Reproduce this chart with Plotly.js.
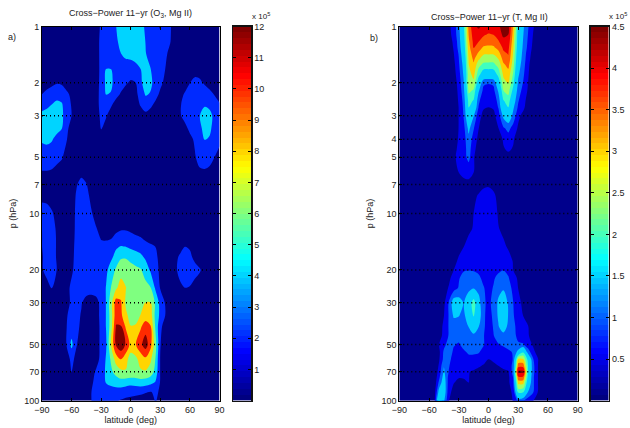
<!DOCTYPE html>
<html><head><meta charset="utf-8">
<script src="https://cdn.plot.ly/plotly-3.0.1.min.js"></script>
<style>html,body{margin:0;padding:0;background:#fff}#chart{width:630px;height:428px}</style>
</head><body><div id="chart"></div>
<script>
const latTicks=[-90,-60,-30,0,30,60,90];
const pTicksA=[1,2,3,5,7,10,20,30,50,70,100];
const pTicksB=[1,2,3,4,5,7,10,20,30,50,70,100];
const gridA=[2,3,5,7,10,20,30,50,70];
const gridB=[2,3,4,5,7,10,20,30,50,70];
const barTicksA=[1,2,3,4,5,6,7,8,9,10,11,12];
const barTicksB=[0.5,1,1.5,2,2.5,3,3.5,4,4.5];

const latA=[-90,-85,-80,-75,-70,-65,-60,-55,-50,-45,-40,-35,-30,-25,-20,-15,-10,-5,0,5,10,15,20,25,30,35,40,45,50,55,60,65,70,75,80,85,90];
const pA=[1,1.2,1.4,1.7,2,2.3,2.6,3,3.5,4,5,6,7,8,10,12,13.5,15,17,20,25,30,35,40,50,60,70,80,90,100];
const powerO3=[
[.2,.2,.2,.2,.2,.2,.2,.2,.2,.2,.3,.9,2.0,2.5,3.0,3.4,4.0,4.6,4.8,4.6,4.2,3.1,2.6,2.0,1.6,2.2,1.9,.8,.3,.2,.2,.2,.2,.2,.2,.2,.2],
[.2,.2,.2,.2,.2,.2,.2,.2,.2,.2,.3,1.0,2.2,2.6,2.9,3.2,3.8,4.4,4.6,4.5,4.0,3.4,2.8,2.4,2.2,2.2,1.8,.7,.3,.2,.2,.2,.2,.2,.2,.2,.2],
[.2,.2,.2,.2,.2,.2,.2,.2,.2,.2,.3,1.0,2.2,2.6,2.8,3.1,3.4,3.9,4.0,4.1,4.0,3.5,2.9,2.5,2.3,2.0,1.3,.5,.2,.2,.2,.2,.2,.2,.2,.2,.2],
[.4,.4,.5,.6,.6,.4,.3,.2,.2,.2,.3,1.1,2.1,3.5,3.45,2.7,2.5,2.4,2.5,2.9,3.4,3.9,3.5,2.6,2.2,1.7,.9,.4,.3,.3,.5,1.2,1.1,.7,.4,.3,.3],
[.9,1.0,1.3,1.6,1.5,.8,.4,.3,.3,.3,.4,1.2,2.1,3.8,3.8,2.6,2.2,1.9,1.5,1.7,3.1,4.2,3.8,2.8,2.1,1.3,.7,.4,.4,.9,1.7,2.1,2.0,1.5,1.0,.7,.5],
[1.7,2.2,2.6,2.8,2.6,2.1,1.3,.6,.4,.3,.4,1.2,2.2,3.5,3.3,2.1,1.6,1.0,.9,1.3,2.4,3.6,3.3,2.3,1.4,.8,.5,.6,1.2,1.9,2.3,2.7,2.9,2.6,2.2,1.6,1.2],
[2.7,3.0,3.4,3.8,3.6,2.4,1.6,.7,.4,.3,.4,1.2,2.2,2.6,1.9,1.3,.9,.7,.8,1.0,1.9,2.5,2.1,1.4,.8,.5,.4,.7,1.6,2.1,2.4,2.8,3.0,3.2,3.0,2.4,1.8],
[3.9,4.1,4.3,4.3,3.8,2.5,1.7,.8,.4,.3,.3,1.1,2.0,1.8,1.2,.8,.5,.4,.4,.5,.9,1.3,1.0,.7,.4,.3,.3,.6,1.6,2.1,2.5,2.9,3.4,4.2,3.9,3.0,2.2],
[4.0,4.1,4.1,3.9,3.5,2.0,1.2,.6,.4,.3,.3,.9,1.8,1.3,.8,.5,.3,.3,.3,.3,.3,.3,.3,.3,.3,.3,.3,.3,.8,1.4,2.0,2.5,3.1,3.9,3.7,2.9,2.2],
[3.6,3.7,3.55,3.0,2.5,1.8,1.0,.5,.3,.3,.3,.5,1.0,.6,.3,.3,.2,.2,.2,.2,.2,.2,.2,.2,.2,.2,.2,.2,.4,.9,1.4,1.9,2.6,3.5,3.3,2.6,2.0],
[2.8,2.8,2.6,2.2,1.9,1.0,.5,.4,.9,.6,.3,.2,.2,.2,.2,.2,.2,.2,.2,.2,.2,.2,.2,.2,.2,.2,.2,.2,.2,.5,1.0,1.6,2.2,2.5,2.3,1.7,1.3],
[1.6,1.6,1.5,1.2,.8,.5,.3,.6,1.3,1.0,.5,.3,.2,.2,.2,.2,.2,.2,.2,.2,.2,.2,.2,.2,.2,.2,.2,.2,.2,.3,.7,1.2,1.5,1.5,1.3,.9,.7],
[.9,.8,.6,.4,.3,.3,.5,1.6,2.2,1.8,1.0,.5,.3,.2,.2,.2,.2,.2,.2,.2,.2,.2,.2,.2,.2,.2,.2,.2,.2,.2,.3,.5,.7,.7,.6,.4,.3],
[1.4,1.3,.9,.5,.4,.4,.9,1.9,2.4,2.3,1.2,.6,.3,.2,.2,.2,.2,.2,.2,.2,.2,.2,.2,.2,.2,.2,.2,.2,.2,.2,.2,.3,.3,.3,.3,.2,.2],
[2.2,2.2,1.9,1.2,.7,.6,1.1,2.0,2.5,2.5,1.9,1.0,.8,.7,.7,.8,.9,.9,.8,.7,.6,.5,.4,.3,.2,.2,.2,.2,.2,.2,.2,.2,.2,.2,.2,.2,.2],
[1.7,2.3,2.3,1.5,.8,.7,1.2,2.0,2.5,2.6,2.3,1.8,1.1,1.0,1.1,1.3,1.5,1.5,1.3,1.1,.9,.7,.5,.4,.3,.2,.2,.2,.3,.4,.3,.2,.2,.2,.2,.2,.2],
[1.7,2.3,2.3,1.6,.9,.8,1.3,2.0,2.6,2.7,2.5,2.2,1.6,1.5,1.6,2.1,2.5,2.5,2.3,2.0,1.8,1.4,1.1,.8,.6,.4,.3,.3,.6,.9,.7,.4,.2,.2,.2,.2,.2],
[1.7,2.3,2.3,1.6,.9,.8,1.3,2.1,2.6,2.7,2.6,2.4,2.1,2.2,2.6,3.2,3.5,3.4,3.1,2.9,2.6,2.3,2.0,1.7,1.1,.7,.5,.7,1.0,1.7,1.5,.7,.4,.2,.2,.2,.2],
[1.6,2.2,2.3,1.6,.9,.8,1.4,2.1,2.6,2.7,2.6,2.5,2.4,2.6,3.1,3.9,4.9,4.9,4.4,4.1,3.8,3.1,2.6,2.0,1.3,.8,.6,1.2,2.0,2.2,2.1,1.2,.6,.3,.2,.2,.2],
[1.6,2.1,2.2,1.7,.9,.8,1.5,2.2,2.7,3.5,2.8,2.6,2.5,3.1,4.1,5.4,6.2,6.4,6.0,5.6,5.3,4.4,3.2,2.1,1.5,.9,.8,1.4,2.2,2.5,2.6,2.4,1.9,1.0,.6,.4,.3],
[.9,1.3,1.75,1.3,.8,1.3,2.0,2.3,2.3,2.3,2.3,2.3,2.4,3.5,5.2,6.6,7.6,6.9,6.5,6.3,6.0,5.7,5.3,3.2,1.6,.9,.7,1.0,1.4,1.7,1.6,1.0,.7,.4,.3,.3,.2],
[.5,.5,.5,.5,.5,1.2,2.0,2.3,1.8,1.2,1.0,1.3,2.1,3.5,6.2,9.4,8.8,6.6,6.5,6.3,6.4,6.9,7.0,4.9,2.8,1.6,.8,.4,.3,.3,.3,.3,.2,.2,.2,.2,.2],
[.4,.4,.4,.4,.5,1.6,2.3,2.1,1.6,1.0,.9,1.2,2.1,3.5,6.0,9.6,9.0,7.2,6.3,6.2,6.9,7.6,7.8,4.6,3.0,1.7,.8,.3,.2,.2,.2,.2,.2,.2,.2,.2,.2],
[.3,.3,.3,.3,.5,1.7,2.4,2.0,1.5,.9,.8,1.2,2.0,3.5,6.0,10.4,10.4,8.3,6.9,7.0,8.3,9.5,8.7,4.9,2.0,1.2,.6,.3,.2,.2,.2,.2,.2,.2,.2,.2,.2],
[.2,.2,.2,.2,.6,1.8,3.9,1.8,1.1,.7,.6,1.2,2.0,3.2,6.9,10.5,11.6,10.1,8.0,8.5,9.8,11.2,9.2,5.8,1.8,.6,.3,.2,.2,.2,.2,.2,.2,.2,.2,.2,.2],
[.2,.2,.2,.2,.3,1.0,2.1,1.3,.8,.5,.5,1.2,2.1,3.6,5.4,7.6,8.6,7.5,6.0,6.4,7.6,8.2,7.2,5.1,1.6,.5,.2,.2,.2,.2,.2,.2,.2,.2,.2,.2,.2],
[.2,.2,.2,.2,.2,.5,1.8,.8,.5,.4,1.2,1.9,2.5,3.7,4.8,5.8,6.5,6.7,6.6,6.4,6.6,6.7,6.1,4.6,1.6,.4,.2,.2,.2,.2,.2,.2,.2,.2,.2,.2,.2],
[.2,.2,.2,.2,.2,.2,.3,.3,.3,.6,1.5,2.1,2.7,3.5,3.9,4.1,4.4,4.2,4.0,4.2,4.4,4.2,3.9,3.3,1.6,.3,.2,.2,.2,.2,.2,.2,.2,.2,.2,.2,.2],
[.2,.2,.2,.2,.2,.2,.2,.2,.3,1.0,1.7,2.2,2.6,2.6,2.6,2.7,2.5,2.3,2.2,2.1,2.0,1.8,1.6,2.0,1.5,.3,.2,.2,.2,.2,.2,.2,.2,.2,.2,.2,.2],
[.2,.2,.2,.2,.2,.2,.2,.2,.3,.9,1.7,2.1,2.2,2.2,2.0,1.8,1.6,1.4,1.3,1.2,1.1,1.0,1.2,1.8,1.4,.7,.2,.2,.2,.2,.2,.2,.2,.2,.2,.2,.2]
];

const latB=[-90,-60,-55,-50,-45,-40,-35,-30,-25,-20,-15,-10,-5,0,5,10,15,20,25,30,35,40,45,50,55,90];
const pB=[1,1.1,1.2,1.3,1.4,1.5,1.6,1.8,2,2.2,2.5,2.7,3,3.5,4,4.5,5,6,7,8,10,12,15,18,20,22,25,30,35,40,45,50,55,60,65,70,75,80,90,100];
const powerT=[
[.05,.05,.05,.1,.2,.3,.6,1.1,2.0,3.4,4.0,4.15,4.0,3.95,3.95,4.0,4.3,4.2,3.2,1.9,1.3,.85,.45,.2,.05,.05],
[.05,.05,.05,.1,.15,.25,.6,1.05,1.9,3.3,3.9,3.95,3.75,3.65,3.7,3.85,4.2,4.1,3.1,1.8,1.25,.8,.4,.15,.05,.05],
[.05,.05,.05,.05,.1,.2,.5,1.0,1.8,3.2,3.8,3.7,3.5,3.4,3.45,3.65,3.95,3.95,3.0,1.75,1.2,.75,.35,.1,.05,.05],
[.05,.05,.05,.05,.1,.15,.45,.95,1.7,3.1,3.7,3.45,3.2,3.2,3.2,3.4,3.75,3.8,2.9,1.7,1.15,.7,.3,.1,.05,.05],
[.05,.05,.05,.05,.05,.12,.4,.85,1.6,3.0,3.5,3.2,2.9,2.9,2.9,3.1,3.6,3.7,2.8,1.6,1.1,.6,.25,.1,.05,.05],
[.05,.05,.05,.05,.05,.1,.35,.8,1.5,2.9,3.35,2.9,2.65,2.6,2.6,2.85,3.4,3.6,2.7,1.55,1.05,.55,.2,.05,.05,.05],
[.05,.05,.05,.05,.05,.1,.3,.75,1.4,2.85,3.2,2.6,2.35,2.35,2.35,2.6,3.2,3.4,2.6,1.45,1.0,.5,.15,.05,.05,.05],
[.05,.05,.05,.05,.05,.1,.25,.65,1.3,2.7,3.0,2.2,1.75,1.7,1.75,2.2,2.95,3.1,2.4,1.3,.9,.45,.1,.05,.05,.05],
[.05,.05,.05,.05,.05,.1,.2,.55,1.2,2.75,2.75,1.7,.9,.85,.9,1.7,2.7,2.9,2.15,1.15,.8,.4,.1,.05,.05,.05],
[.05,.05,.05,.05,.05,.1,.18,.5,1.1,2.55,2.4,1.3,.7,.65,.7,1.3,2.45,2.6,1.9,1.0,.7,.35,.1,.05,.05,.05],
[.05,.05,.05,.05,.05,.05,.15,.45,.95,2.2,2.0,.9,.55,.5,.55,.95,2.0,2.25,1.5,.85,.55,.25,.05,.05,.05,.05],
[.05,.05,.05,.05,.05,.05,.12,.42,.9,2.05,1.8,.8,.45,.41,.45,.85,1.8,2.05,1.3,.75,.5,.2,.05,.05,.05,.05],
[.05,.05,.05,.05,.05,.05,.15,.42,.85,1.8,1.25,.55,.3,.3,.3,.6,1.35,1.6,1.1,.5,.3,.12,.05,.05,.05,.05],
[.05,.05,.05,.05,.05,.05,.2,.42,.7,1.35,.85,.42,.2,.2,.2,.4,.75,.95,.65,.35,.2,.1,.05,.05,.05,.05],
[.05,.05,.05,.05,.05,.05,.25,.44,.65,1.1,.65,.3,.15,.1,.1,.2,.45,.6,.45,.2,.1,.05,.05,.05,.05,.05],
[.05,.05,.05,.05,.05,.05,.3,.48,.65,1.0,.55,.2,.1,.1,.1,.1,.38,.47,.38,.15,.1,.05,.05,.05,.05,.05],
[.05,.05,.05,.05,.05,.05,.35,.5,.65,.95,.45,.15,.1,.1,.1,.1,.15,.3,.15,.1,.05,.05,.05,.05,.05,.05],
[.05,.05,.05,.05,.05,.05,.15,.42,.55,.55,.42,.1,.1,.1,.1,.1,.1,.1,.1,.05,.05,.05,.05,.05,.05,.05],
[.05,.05,.05,.05,.05,.05,.05,.1,.25,.3,.15,.2,.3,.35,.3,.2,.1,.05,.05,.05,.05,.05,.05,.05,.05,.05],
[.05,.05,.05,.05,.05,.05,.05,.1,.1,.15,.3,.45,.6,.6,.48,.3,.1,.05,.05,.05,.05,.05,.05,.05,.05,.05],
[.05,.05,.05,.05,.05,.05,.05,.05,.1,.2,.41,.6,.75,.75,.65,.35,.2,.1,.05,.05,.05,.05,.05,.05,.05,.05],
[.05,.05,.05,.05,.05,.05,.05,.05,.1,.3,.45,.65,.75,.75,.6,.43,.3,.1,.05,.05,.05,.05,.05,.05,.05,.05],
[.05,.05,.05,.05,.05,.05,.05,.25,.4,.6,.7,.7,.7,.7,.7,.65,.5,.35,.2,.05,.05,.05,.05,.05,.05,.05],
[.05,.05,.05,.05,.05,.05,.25,.5,.7,.75,.78,.75,.7,.65,.65,.72,.75,.6,.38,.25,.05,.05,.05,.05,.05,.05],
[.05,.05,.05,.05,.05,.25,.41,.6,.78,.8,.78,.72,.65,.6,.62,.72,.8,.7,.4,.28,.1,.05,.05,.05,.05,.05],
[.05,.05,.05,.05,.1,.3,.6,.78,.95,1.0,1.0,.9,.7,.6,.75,.95,1.05,.85,.55,.35,.2,.05,.05,.05,.05,.05],
[.05,.05,.05,.05,.2,.45,.65,.85,1.0,1.1,1.2,1.1,.85,.65,.85,1.1,1.15,1.0,.7,.4,.25,.1,.05,.05,.05,.05],
[.05,.05,.05,.1,.3,.85,1.5,1.45,1.2,1.6,2.35,1.4,.9,.7,.95,1.3,1.7,1.15,.82,.55,.3,.15,.05,.05,.05,.05],
[.05,.05,.05,.15,.4,.85,1.3,1.25,1.1,1.6,2.1,1.5,.9,.65,.9,1.3,1.7,1.2,.85,.6,.4,.15,.05,.05,.05,.05],
[.05,.05,.05,.2,.5,.85,1.0,1.0,1.0,1.25,1.5,1.25,.9,.6,.85,1.2,1.55,1.1,.9,.7,.55,.42,.15,.05,.05,.05],
[.05,.05,.05,.2,.55,.85,.95,.95,1.0,1.05,1.15,1.0,.85,.55,.8,1.0,1.05,1.0,.9,.75,.6,.45,.2,.05,.05,.05],
[.05,.05,.1,.4,.7,1.0,.85,.78,.95,1.0,.95,.95,.85,.6,.65,.8,.88,.95,.95,.85,.85,.6,.35,.15,.05,.05],
[.05,.05,.1,.3,.9,1.0,.75,.65,.75,.88,.88,.85,.7,.55,.55,.6,.65,.75,.85,1.4,2.0,1.0,.55,.2,.05,.05],
[.05,.05,.1,.35,.95,.9,.7,.6,.65,.7,.7,.65,.55,.41,.45,.5,.55,.6,.85,2.9,2.9,1.85,.85,.42,.05,.05],
[.05,.05,.05,.45,1.2,.85,.6,.5,.55,.55,.5,.45,.38,.3,.36,.41,.5,.55,.95,3.5,3.5,2.0,.95,.4,.05,.05],
[.05,.05,.05,.55,1.3,.8,.55,.45,.45,.42,.38,.32,.28,.25,.28,.3,.33,.38,1.0,4.2,4.2,1.95,.95,.4,.05,.05],
[.05,.05,.05,.7,1.45,.65,.5,.42,.42,.42,.32,.25,.2,.2,.2,.2,.25,.3,.85,3.6,3.6,1.8,.9,.4,.05,.05],
[.05,.05,.05,.9,1.55,.6,.42,.35,.38,.41,.25,.15,.1,.1,.1,.1,.15,.3,.8,3.0,3.0,1.65,.9,.4,.05,.05],
[.05,.05,.1,1.4,1.6,.5,.3,.2,.15,.1,.1,.1,.1,.1,.1,.1,.15,.25,.5,2.15,2.1,1.2,.85,.38,.05,.05],
[.05,.05,.1,2.15,1.3,.42,.2,.15,.1,.1,.1,.1,.1,.1,.1,.1,.1,.15,.45,.95,.85,.6,.42,.2,.05,.05]
];

const jet=[[0,'#000080'],[.125,'#0000ff'],[.375,'#00ffff'],[.625,'#ffff00'],[.875,'#ff0000'],[1,'#800000']];
const bandsB=['#00008c','#0000f0','#0060ff','#00d0ff','#00d0ff','#40ffc0','#a0ff60','#ffd000','#ff6000','#f00000','#800000'];
const bandScaleB=bandsB.map((c,i)=>[i/(bandsB.length-1),c]);
const font={family:'"Liberation Sans",Arial,sans-serif',size:9,color:'#222'};
const expFont={family:font.family,size:8,color:'#222'};
const W=630,H=428,top_=26.5,bot=400.7;
const yDom=[1-bot/H,1-top_/H];

function dotted(grid,xa,ya){
  const x=[],y=[];
  grid.forEach(p=>{x.push(-90,90,null);y.push(p,p,null);});
  return {type:'scatter',mode:'lines',x,y,xaxis:xa,yaxis:ya,hoverinfo:'skip',showlegend:false,
    line:{color:'#000',width:1.5,dash:'1px,3px'}};
}
function barTrace(max,xa,ya){
  const y=[],z=[];
  for(let i=0;i<64;i++){y.push((i+.5)/64*max);z.push([i]);}
  return {type:'heatmap',x:[0],y,z,xaxis:xa,yaxis:ya,colorscale:jet,showscale:false,zmin:0,zmax:63,hoverinfo:'skip'};
}
function mainAxes(l,r,ticks){
  return [
   {domain:[l/W,r/W],range:[-90,90],tickmode:'array',tickvals:latTicks,ticks:'inside',ticklen:3,tickcolor:'#000',
    showline:true,linecolor:'#000',linewidth:1,mirror:'ticks',showgrid:false,zeroline:false,tickfont:font,
    title:{text:'latitude (deg)',font,standoff:3},automargin:false,tickangle:0},
   {domain:yDom,type:'log',range:[2,0],tickmode:'array',tickvals:ticks,ticktext:ticks.map(String),ticks:'inside',ticklen:3,tickcolor:'#000',
    showline:true,linecolor:'#000',linewidth:1,mirror:'ticks',showgrid:false,zeroline:false,tickfont:font,
    title:{text:'p (hPa)',font,standoff:6},automargin:false}
  ];
}
function barAxes(l,r,max,ticks){
  return [
   {domain:[l/W,r/W],range:[-.5,.5],showticklabels:false,ticks:'',showline:true,linecolor:'#111',linewidth:1.5,mirror:true,showgrid:false,zeroline:false},
   {domain:yDom,range:[0,max],side:'right',tickmode:'array',tickvals:ticks,ticktext:ticks.map(String),ticks:'inside',ticklen:3,tickcolor:'#000',
    showline:true,linecolor:'#111',linewidth:1.5,mirror:'ticks',showgrid:false,zeroline:false,tickfont:font}
  ];
}
const [xa1,ya1]=mainAxes(42,219.5,pTicksA);
const [xb1,yb1]=mainAxes(399.3,577.7,pTicksB);
const [xa2,ya2]=barAxes(233,251,12,barTicksA);
const [xb2,yb2]=barAxes(590.7,608.7,4.5,barTicksB);

const data=[
 {type:'contour',x:latA,y:pA,z:powerO3,xaxis:'x',yaxis:'y',colorscale:jet,showscale:false,hoverinfo:'skip',
  contours:{coloring:'fill',showlines:false,start:12/7,end:12/7*6,size:12/7},line:{width:0,smoothing:.9},autocontour:false},
 dotted(gridA,'x','y'),
 barTrace(12,'x2','y2'),
 {type:'contour',x:latB,y:pB,z:powerT,xaxis:'x3',yaxis:'y3',colorscale:bandScaleB,showscale:false,hoverinfo:'skip',
  contours:{coloring:'fill',showlines:false,start:.409,end:.409*10,size:.409},line:{width:0,smoothing:.9},autocontour:false},
 dotted(gridB,'x3','y3'),
 barTrace(4.5,'x4','y4')
];
xa2.anchor='y2';ya2.anchor='x2';
xb1.anchor='y3';yb1.anchor='x3';
xb2.anchor='y4';yb2.anchor='x4';

const ann=(text,px,py,xanchor,f)=>({text,xref:'paper',yref:'paper',x:px/W,y:1-py/H,xanchor:xanchor||'left',yanchor:'middle',showarrow:false,font:f||font,align:'left'});
const layout={width:W,height:H,margin:{l:0,r:0,t:0,b:0},paper_bgcolor:'#fff',plot_bgcolor:'#fff',showlegend:false,
 xaxis:xa1,yaxis:ya1,xaxis2:xa2,yaxis2:ya2,xaxis3:xb1,yaxis3:yb1,xaxis4:xb2,yaxis4:yb2,
 annotations:[
  ann('Cross\u2212Power 11\u2212yr (O<sub>3</sub>, Mg II)',130.5,13,'center'),
  ann('Cross\u2212Power 11\u2212yr (T, Mg II)',489,17,'center'),
  ann('a)',6,37),ann('b)',368,38),
  ann('x 10<sup>5</sup>',249.5,16,'left',expFont),ann('x 10<sup>5</sup>',607,16,'left',expFont)
 ]};
Plotly.newPlot('chart',data,layout,{displayModeBar:false,staticPlot:true});
</script></body></html>
